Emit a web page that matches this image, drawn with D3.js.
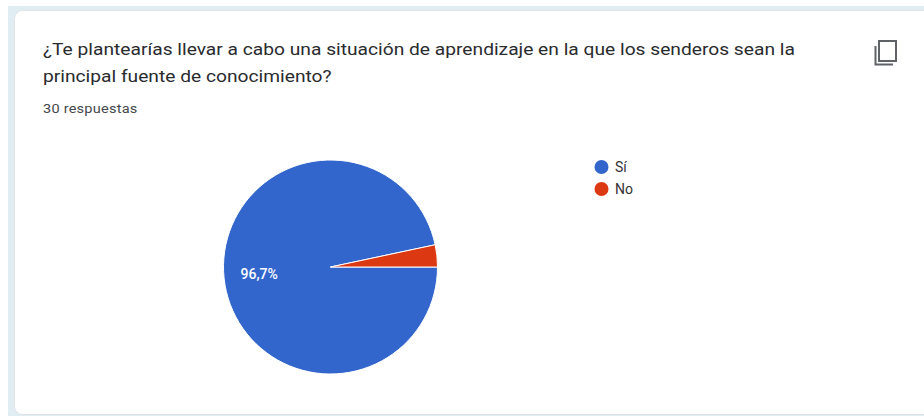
<!DOCTYPE html>
<html lang="en">
<head>
<meta charset="utf-8">
<title>Encuesta senderos</title>
<script src="https://d3js.org/d3.v7.min.js"></script>
<style>
  html, body { margin: 0; padding: 0; background: #fff; overflow: hidden; }
  text { font-family: Roboto, sans-serif; }
</style>
</head>
<body>
<script>
// Data
const categories = ["Sí", "No"];
const responses = [29, 1];
const sliceColors = ["#3366cc", "#dc3912"];
const titleLines = [
  "¿Te plantearías llevar a cabo una situación de aprendizaje en la que los senderos sean la",
  "principal fuente de conocimiento?"
];
const subtitle = "30 respuestas";
const sliceLabels = ["96,7%", ""];

const w = 924, h = 416;
const cx = 330.5, cy = 267, radius = 107;

const svg = d3.select("body").append("svg")
  .attr("width", w)
  .attr("height", h)
  .style("display", "block");

// page band + card
svg.append("rect").attr("x", 8).attr("y", 6).attr("width", w - 8).attr("height", h - 6).attr("fill", "#e0edf3");
svg.append("rect").attr("x", 14.5).attr("y", 10.5).attr("width", w + 20).attr("height", 404)
  .attr("rx", 8).attr("fill", "#fff").attr("stroke", "#e0e3e6");

// title, the screenshot is a bit stretched sideways
svg.selectAll(".title").data(titleLines).enter().append("text")
  .attr("class", "title")
  .attr("transform", (d, i) => `translate(43,${55 + i * 27}) scale(1.13,1)`)
  .attr("font-size", "17px")
  .attr("fill", "#2a2b2e")
  .text(d => d);

svg.append("text")
  .attr("transform", "translate(43,113) scale(1.12,1)")
  .attr("font-size", "13px")
  .attr("letter-spacing", "0.2px")
  .attr("fill", "#45484c")
  .text(subtitle);

// copy icon
const icon = svg.append("g").attr("fill", "none").attr("stroke", "#5f6368").attr("stroke-width", 2);
icon.append("rect").attr("x", 879).attr("y", 41).attr("width", 17).attr("height", 20);
icon.append("path").attr("d", "M875.5 46V64.5H893");

// pie
const pie = d3.pie().sort(null).startAngle(Math.PI / 2).endAngle(Math.PI / 2 + 2 * Math.PI);
const arc = d3.arc().innerRadius(0).outerRadius(radius);
const slices = pie(responses);

const chart = svg.append("g").attr("transform", `translate(${cx},${cy})`);
chart.selectAll("path").data(slices).enter().append("path")
  .attr("d", arc)
  .attr("fill", (d, i) => sliceColors[i])
  .attr("stroke", "#fff")
  .attr("stroke-width", 1);

const labelArc = d3.arc().innerRadius(radius * 0.67).outerRadius(radius * 0.67);
chart.selectAll(".slice-label").data(slices).enter().append("text")
  .attr("class", "slice-label")
  .attr("x", d => labelArc.centroid(d)[0])
  .attr("y", d => labelArc.centroid(d)[1])
  .attr("text-anchor", "middle")
  .attr("dy", "0.3em")
  .attr("font-size", "14px")
  .attr("font-weight", 500)
  .attr("fill", "#fff")
  .text((d, i) => sliceLabels[i]);

// legend
const yLegend = d3.scalePoint().domain(categories).range([167, 189]);
const legend = svg.selectAll(".legend").data(categories).enter().append("g")
  .attr("class", "legend")
  .attr("transform", d => `translate(0,${yLegend(d)})`);
legend.append("circle").attr("cx", 601.5).attr("r", 7).attr("fill", (d, i) => sliceColors[i]);
legend.append("text")
  .attr("x", 615)
  .attr("dy", "0.35em")
  .attr("font-size", "14px")
  .attr("fill", "#333")
  .text(d => d);
</script>
</body>
</html>
